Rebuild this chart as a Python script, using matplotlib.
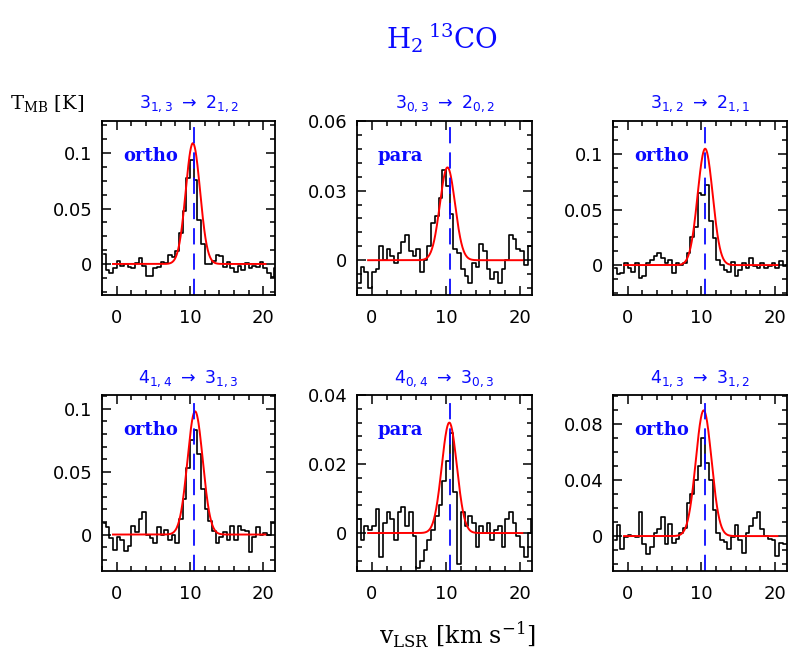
import matplotlib
matplotlib.use("Agg")
import matplotlib.pyplot as plt
import numpy as np
from matplotlib.ticker import MultipleLocator, FuncFormatter

# channel velocities (km/s), 0.5 km/s channels
vel = [-1.75, -1.25, -0.75, -0.25, 0.25, 0.75, 1.25, 1.75, 2.25, 2.75,
       3.25, 3.75, 4.25, 4.75, 5.25, 5.75, 6.25, 6.75, 7.25, 7.75,
       8.25, 8.75, 9.25, 9.75, 10.25, 10.75, 11.25, 11.75, 12.25, 12.75,
       13.25, 13.75, 14.25, 14.75, 15.25, 15.75, 16.25, 16.75, 17.25, 17.75,
       18.25, 18.75, 19.25, 19.75, 20.25, 20.75, 21.25, 21.75]

t_313_212 = [0.009, -0.005, -0.008, -0.004, 0.003, -0.002, 0.0, -0.003, -0.004, 0.001,
             0.005, -0.002, -0.011, -0.011, -0.004, -0.003, 0.002, 0.001, 0.008, 0.006,
             0.012, 0.028, 0.048, 0.078, 0.094, 0.076, 0.040, 0.018, 0.0, 0.0,
             0.003, 0.008, 0.007, -0.003, 0.002, -0.004, -0.007, -0.002, -0.005, 0.001,
             -0.004, -0.002, -0.003, 0.002, -0.004, -0.008, -0.012, -0.004]
t_303_202 = [-0.010, -0.003, -0.005, -0.012, -0.005, -0.004, 0.006, 0.0, 0.005, 0.002,
             -0.001, 0.003, 0.008, 0.011, 0.004, 0.002, 0.005, -0.005, 0.0, 0.006,
             0.016, 0.019, 0.027, 0.039, 0.032, 0.020, 0.005, 0.003, -0.004, -0.007,
             -0.010, -0.001, -0.003, 0.007, 0.004, -0.004, -0.008, -0.005, -0.010, -0.004,
             0.0, 0.011, 0.009, 0.005, 0.004, -0.002, 0.006, 0.006]
t_312_211 = [-0.003, -0.008, -0.007, 0.002, -0.003, -0.006, 0.002, -0.012, -0.010, 0.002,
             0.005, 0.008, 0.011, 0.006, 0.002, 0.005, -0.007, 0.002, 0.0, 0.002,
             0.011, 0.025, 0.034, 0.065, 0.063, 0.072, 0.040, 0.024, 0.005, 0.0,
             -0.004, -0.006, 0.003, -0.010, -0.004, 0.002, -0.003, 0.006, -0.001, -0.003,
             0.002, -0.003, -0.001, 0.002, -0.003, 0.004, -0.001, 0.0]
t_414_313 = [0.009, 0.006, -0.003, -0.012, -0.002, -0.004, -0.013, -0.009, 0.007, 0.002,
             0.012, 0.018, 0.0, -0.003, -0.007, 0.006, 0.0, 0.004, -0.004, 0.0,
             -0.007, 0.012, 0.028, 0.053, 0.075, 0.083, 0.064, 0.036, 0.020, 0.011,
             0.003, -0.007, -0.002, 0.002, -0.004, 0.007, -0.004, 0.007, 0.004, 0.003,
             -0.014, -0.002, 0.006, 0.0, 0.001, 0.0, 0.009, 0.009]
t_404_303 = [0.004, -0.002, 0.002, 0.001, 0.002, 0.007, -0.007, 0.003, 0.006, 0.004,
             -0.002, 0.006, 0.0075, 0.002, 0.006, -0.001, -0.010, -0.008, -0.005, -0.002,
             0.001, 0.005, 0.008, 0.015, 0.021, 0.029, 0.012, -0.009, 0.006, 0.002,
             0.005, 0.003, -0.004, 0.002, 0.0, 0.003, -0.002, 0.001, 0.002, -0.004,
             0.004, 0.006, 0.003, -0.001, -0.004, -0.007, 0.0, 0.004]
t_413_312 = [-0.003, 0.008, -0.009, -0.001, 0.001, 0.0, -0.001, 0.017, -0.006, -0.013,
             -0.008, 0.002, 0.005, 0.014, -0.006, 0.009, -0.005, -0.002, 0.002, 0.006,
             0.024, 0.030, 0.040, 0.050, 0.070, 0.052, 0.040, 0.019, 0.002, -0.003,
             -0.004, -0.009, -0.001, 0.008, -0.003, -0.012, 0.002, 0.007, 0.013, 0.017,
             0.005, 0.0, -0.002, -0.003, -0.014, -0.005, -0.006, -0.006]

spectra = [t_313_212, t_303_202, t_312_211, t_414_313, t_404_303, t_413_312]
labels = [r'$3_{1,3}\ \rightarrow\ 2_{1,2}$', r'$3_{0,3}\ \rightarrow\ 2_{0,2}$',
          r'$3_{1,2}\ \rightarrow\ 2_{1,1}$', r'$4_{1,4}\ \rightarrow\ 3_{1,3}$',
          r'$4_{0,4}\ \rightarrow\ 3_{0,3}$', r'$4_{1,3}\ \rightarrow\ 3_{1,2}$']
species = ['ortho', 'para', 'ortho', 'ortho', 'para', 'ortho']

# gaussian fits: peak (K), centre (km/s), FWHM (km/s)
fit_peak = [0.109, 0.040, 0.105, 0.098, 0.032, 0.090]
fit_v0 = [10.4, 10.2, 10.5, 10.7, 10.45, 10.3]
fit_fwhm = [2.3, 2.4, 2.4, 2.45, 2.4, 2.5]

ylims = [(-0.028, 0.129), (-0.015, 0.06), (-0.027, 0.13),
         (-0.029, 0.111), (-0.011, 0.04), (-0.025, 0.101)]
ymajor = [0.05, 0.03, 0.05, 0.05, 0.02, 0.04]
yminor = [0.0125, 0.006, 0.0125, 0.01, 0.004, 0.01]

v_sys = 10.5
blue = '#0a0aff'

fig = plt.figure(figsize=(8, 6.66), dpi=100)
lefts = [102, 357, 613]
widths = [173, 175, 174]
tops = [121, 395]
heights = [174, 176]

for i in range(6):
    row, col = divmod(i, 3)
    x0 = lefts[col] / 800
    y0 = 1 - (tops[row] + heights[row]) / 666
    ax = fig.add_axes([x0, y0, widths[col] / 800, heights[row] / 666])

    ax.step(vel, spectra[i], where='mid', color='k', lw=1.2)
    vf = np.linspace(-0.5, 20.3, 400)
    sig = fit_fwhm[i] / 2.3548
    ax.plot(vf, fit_peak[i] * np.exp(-0.5 * ((vf - fit_v0[i]) / sig) ** 2),
            color='#ff0000', lw=1.4)
    ax.axvline(v_sys, color=blue, lw=1.3, dashes=(9, 5))

    ax.set_xlim(-2, 21.6)
    ax.set_ylim(*ylims[i])
    ax.xaxis.set_major_locator(MultipleLocator(10))
    ax.xaxis.set_minor_locator(MultipleLocator(2))
    ax.yaxis.set_major_locator(MultipleLocator(ymajor[i]))
    ax.yaxis.set_minor_locator(MultipleLocator(yminor[i]))
    ax.yaxis.set_major_formatter(FuncFormatter(lambda y, p: '%g' % round(y, 4)))
    ax.tick_params(which='both', direction='in', top=True, right=True,
                   labelsize=13, width=1.1)
    ax.tick_params(which='major', length=6.5)
    ax.tick_params(which='minor', length=3.5)
    ax.tick_params(axis='x', which='major', pad=10)
    ax.tick_params(axis='y', which='major', pad=7)
    for s in ax.spines.values():
        s.set_linewidth(1.3)

    ax.set_title(labels[i], color=blue, fontsize=12.5, pad=9)
    ax.text(0.12, 0.80, species[i], transform=ax.transAxes, color=blue,
            fontsize=13, fontweight='bold', family='DejaVu Serif',
            va='center', ha='left')

fig.text(0.5525, 0.943, r'$\mathrm{H_2\,^{13}CO}$', color=blue, fontsize=20,
         ha='center', va='center', math_fontfamily='dejavuserif')
fig.text(0.0125, 0.844, r'$\mathrm{T_{MB}}$ [K]', fontsize=14, family='DejaVu Serif',
         ha='left', va='center', math_fontfamily='dejavuserif')
fig.text(0.571, 0.047, r'$\mathrm{v_{LSR}}$ [km s$^{-1}$]', fontsize=17,
         family='DejaVu Serif', ha='center', va='center', math_fontfamily='dejavuserif')

fig.savefig('out.png', dpi=100)
